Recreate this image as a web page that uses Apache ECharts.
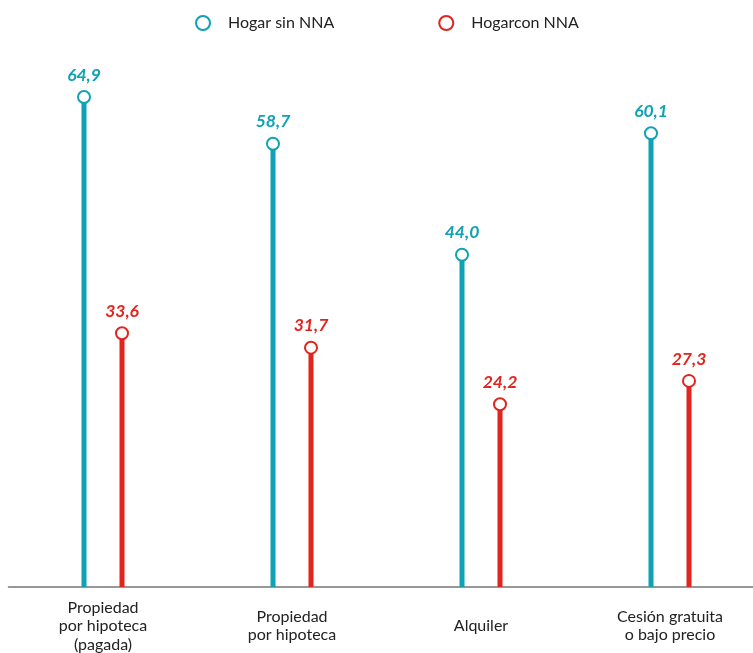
<!DOCTYPE html>
<html>
<head>
<meta charset="utf-8">
<script src="https://cdn.jsdelivr.net/npm/echarts@6/dist/echarts.min.js"></script>
<style>
  html, body { margin: 0; padding: 0; background: #fff; }
  #chart { width: 753px; height: 653px; }
</style>
</head>
<body>
<div id="chart"></div>
<script>
const categories = ['Propiedad\npor hipoteca\n(pagada)', 'Propiedad\npor hipoteca', 'Alquiler', 'Cesión gratuita\no bajo precio'];
const sinNNA = [64.9, 58.7, 44.0, 60.1];
const conNNA = [33.6, 31.7, 24.2, 27.3];
const seriesNames = ['Hogar sin NNA', 'Hogarcon NNA'];

const teal = '#0fa1b5';
const red = '#e1251e';
const fmt = p => p.value.toFixed(1).replace('.', ',');

const chart = echarts.init(document.getElementById('chart'));

function stick(data, color) {
    return {
        type: 'bar',
        data: data,
        barWidth: 5,
        barGap: '660%',
        itemStyle: { color: color },
        silent: true,
        legendHoverLink: false
    };
}

function dot(name, data, color, offset) {
    return {
        name: name,
        type: 'scatter',
        data: data,
        symbol: 'emptyCircle',
        symbolSize: 12,
        symbolOffset: [offset, 0],
        itemStyle: { color: color, borderWidth: 2.5, opacity: 1 },
        label: {
            show: true,
            position: 'top',
            distance: 6,
            color: color,
            fontFamily: 'Lato',
            fontStyle: 'italic',
            fontWeight: 'bold',
            fontSize: 17.5,
            formatter: fmt
        },
        z: 5
    };
}

var option = {
    animation: false,
    textStyle: { fontFamily: 'Lato' },
    legend: {
        data: [
            { name: seriesNames[0], icon: 'emptyCircle', itemStyle: { borderWidth: 3 } },
            { name: seriesNames[1], icon: 'emptyCircle', itemStyle: { borderWidth: 3 } }
        ],
        top: 10,
        left: 190,
        itemWidth: 14,
        itemHeight: 14,
        itemGap: 104,
        textStyle: { fontFamily: 'Lato', fontSize: 16, color: '#222', padding: [0, 0, 0, 13] }
    },
    grid: { left: 8.5, width: 756, top: 58.5, bottom: 66, outerBoundsMode: 'none' },
    xAxis: {
        type: 'category',
        data: categories,
        axisLine: { lineStyle: { color: '#777', width: 1.5 } },
        axisTick: { show: false },
        axisLabel: {
            color: '#222',
            fontFamily: 'Lato',
            fontSize: 16,
            lineHeight: 18.5,
            verticalAlign: 'middle',
            margin: 39,
            interval: 0
        }
    },
    yAxis: {
        type: 'value',
        min: 0,
        max: 70,
        show: false
    },
    series: [
        stick(sinNNA, teal),
        stick(conNNA, red),
        dot(seriesNames[0], sinNNA, teal, -19),
        dot(seriesNames[1], conNNA, red, 19)
    ]
};
chart.setOption(option);
</script>
</body>
</html>
